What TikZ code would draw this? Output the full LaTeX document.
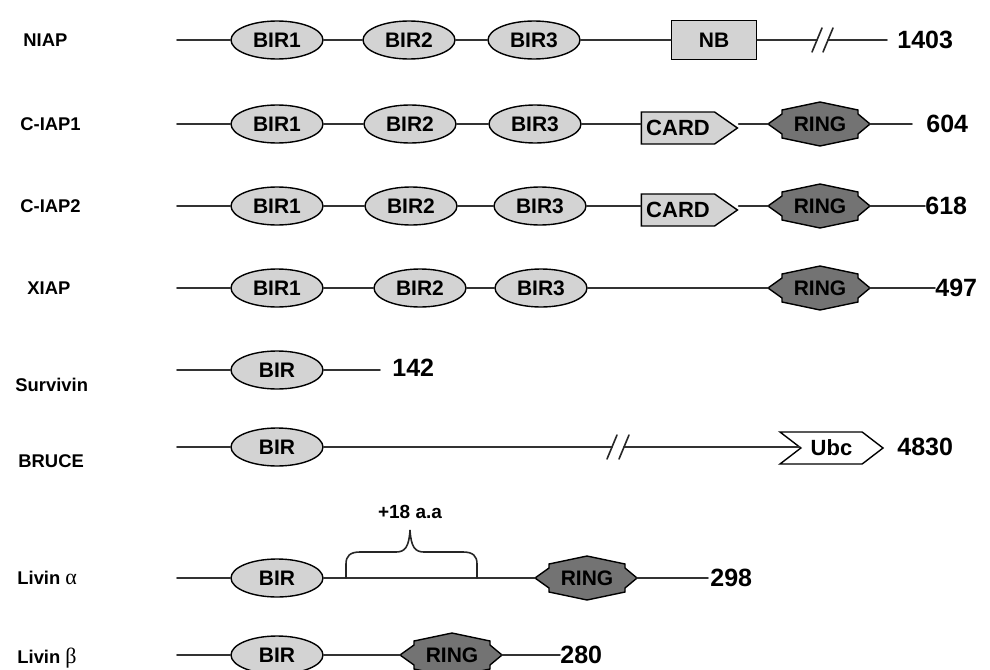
\documentclass[tikz,border=0pt]{standalone}
\usepackage{fontspec}
\setmainfont{Liberation Sans}
\newfontfamily\grk{Liberation Serif}
\usetikzlibrary{shapes.geometric, shapes.symbols}
\definecolor{domgray}{RGB}{211,211,211}
\definecolor{ringgray}{RGB}{115,115,115}

\tikzset{
  bb/.style={line width=0.8pt, black!80},
  brk/.style={line width=0.8pt, black!85},
  prot/.style={anchor=west, inner sep=0pt, font=\bfseries\fontsize{9.2}{11}\selectfont},
  num/.style={anchor=west, inner sep=0pt, font=\bfseries\fontsize{12.5}{14}\selectfont},
  dom/.style={draw=black, line width=0.7pt, inner sep=0pt, font=\bfseries\fontsize{10.5}{12}\selectfont},
  bir/.style={dom, ellipse, fill=domgray, minimum width=46pt, minimum height=19pt},
  nbbox/.style={dom, rectangle, fill=domgray, minimum width=42.5pt, minimum height=19.5pt},
  cardbox/.style={dom, signal, signal to=east, signal pointer angle=70, fill=domgray,
    minimum width=48pt, minimum height=16pt, font=\bfseries\fontsize{11}{12}\selectfont},
  ubcbox/.style={dom, signal, signal to=east, signal from=west, signal pointer angle=75,
    fill=white, minimum width=51.5pt, minimum height=16pt, font=\bfseries\fontsize{11}{12}\selectfont},
  ringdom/.pic={
    \filldraw[fill=ringgray, draw=black, line width=0.7pt]
      (-52,0) -- (-38,-10) -- (-38,-14) -- (0,-22) -- (38,-14) -- (38,-10)
      -- (50,0) -- (38,10) -- (38,14) -- (0,22) -- (-38,14) -- (-38,10) -- cycle;
    \node[font=\bfseries\fontsize{10.5}{12}\selectfont, inner sep=0pt] (-c) {RING};
    \coordinate (-w) at (-52,0);
    \coordinate (-e) at (50,0);
  },
  brkmark/.pic={\draw[brk] (-5,12) -- (5,-12);}
}

\begin{document}
\begin{tikzpicture}[x=0.5pt, y=-0.5pt, line cap=round]
  \useasboundingbox (0,0) rectangle (990,669);

  % --- NIAP ---
  \node[prot] (niap) at (23,40) {NIAP};
  \coordinate (n1s) at (177,40);
  \node[bir] (n1b1) at (277,40) {BIR1};
  \node[bir] (n1b2) at (409,40) {BIR2};
  \node[bir] (n1b3) at (534,40) {BIR3};
  \node[nbbox] (n1nb) at (714,40) {NB};
  \coordinate (n1k1) at (817,40);
  \coordinate (n1k2) at (828,40);
  \node[num] (n1end) at (897,40) {1403};
  \draw[bb] (n1s) -- (n1b1) -- (n1b2) -- (n1b3) -- (n1nb) -- (n1k1);
  \draw[bb, shorten >=5pt] (n1k2) -- (n1end);
  \pic at (n1k1) {brkmark};
  \pic at (n1k2) {brkmark};

  % --- C-IAP1 ---
  \node[prot] (ciap1) at (20,124) {C-IAP1};
  \coordinate (c1s) at (177,124);
  \node[bir] (c1b1) at (277,124) {BIR1};
  \node[bir] (c1b2) at (410,124) {BIR2};
  \node[bir] (c1b3) at (535,124) {BIR3};
  \node[cardbox] (c1card) at (678,128) {CARD\hspace{5pt}};
  \pic (c1r) at (820,124) {ringdom};
  \node[num] (c1end) at (926,124) {604};
  \draw[bb] (c1s) -- (c1b1) -- (c1b2) -- (c1b3) -- (c1b3 -| c1card.west);
  \draw[bb] (c1b3 -| c1card.east) -- (c1r-w);
  \draw[bb, shorten >=7pt] (c1r-e) -- (c1end);

  % --- C-IAP2 ---
  \node[prot] (ciap2) at (20,206) {C-IAP2};
  \coordinate (c2s) at (177,206);
  \node[bir] (c2b1) at (277,206) {BIR1};
  \node[bir] (c2b2) at (411,206) {BIR2};
  \node[bir] (c2b3) at (540,206) {BIR3};
  \node[cardbox] (c2card) at (678,210) {CARD\hspace{5pt}};
  \pic (c2r) at (820,206) {ringdom};
  \node[num] (c2end) at (925,206) {618};
  \draw[bb] (c2s) -- (c2b1) -- (c2b2) -- (c2b3) -- (c2b3 -| c2card.west);
  \draw[bb] (c2b3 -| c2card.east) -- (c2r-w);
  \draw[bb] (c2r-e) -- (c2end);

  % --- XIAP ---
  \node[prot] (xiap) at (27,288) {XIAP};
  \coordinate (x1s) at (177,288);
  \node[bir] (x1b1) at (277,288) {BIR1};
  \node[bir] (x1b2) at (420,288) {BIR2};
  \node[bir] (x1b3) at (541,288) {BIR3};
  \pic (x1r) at (820,288) {ringdom};
  \node[num] (x1end) at (935,288) {497};
  \draw[bb] (x1s) -- (x1b1) -- (x1b2) -- (x1b3) -- (x1r-w);
  \draw[bb] (x1r-e) -- (x1end);

  % --- Survivin ---
  \node[prot] (surv) at (15,385) {Survivin};
  \coordinate (s1s) at (177,370);
  \node[bir] (s1b1) at (277,370) {BIR};
  \node[num] (s1end) at (392,368) {142};
  \draw[bb] (s1s) -- (s1b1);
  \draw[bb, shorten >=6pt] (s1b1) -- (s1end.west |- s1b1);

  % --- BRUCE ---
  \node[prot] (bruce) at (18,461) {BRUCE};
  \coordinate (b1s) at (177,447);
  \node[bir] (b1b1) at (277,447) {BIR};
  \coordinate (b1k1) at (612,447);
  \coordinate (b1k2) at (624,447);
  \node[ubcbox] (b1ubc) at (831.5,448) {Ubc};
  \node[num] (b1end) at (897,447) {4830};
  \draw[bb] (b1s) -- (b1b1) -- (b1k1);
  \draw[bb] (b1k2) -- (b1k2 -| b1ubc.west);
  \pic at (b1k1) {brkmark};
  \pic at (b1k2) {brkmark};

  % --- Livin alpha ---
  \node[prot] (lva) at (17,578) {Livin {\grk\mdseries\fontsize{11}{12}\selectfont α}};
  \coordinate (la0) at (177,578);
  \node[bir] (lab1) at (277,578) {BIR};
  \pic (lar) at (587,578) {ringdom};
  \node[num] (laend) at (710,578) {298};
  \draw[bb] (la0) -- (lab1) -- (lar-w);
  \draw[bb, shorten >=1pt] (lar-e) -- (laend);
  \coordinate (la1) at (346,578);
  \coordinate (la2) at (477,578);
  \draw[brk] (la1) -- (346,564) .. controls (346,556) and (350,552) .. (360,552)
    -- (396,552) .. controls (405,552) and (409,547) .. (410,530)
    .. controls (411,547) and (415,552) .. (424,552) -- (463,552)
    .. controls (473,552) and (477,556) .. (477,564) -- (la2);
  \node[font=\bfseries\fontsize{9.5}{11}\selectfont, inner sep=0pt] (aa) at (410,512) {+18 a.a};

  % --- Livin beta ---
  \node[prot] (lvb) at (17,658) {Livin {\grk\mdseries\fontsize{11}{12}\selectfont β}};
  \coordinate (lb0) at (177,655);
  \node[bir] (lbb1) at (277,655) {BIR};
  \pic (lbr) at (452,655) {ringdom};
  \node[num] (lbend) at (560,655) {280};
  \draw[bb] (lb0) -- (lbb1) -- (lbr-w);
  \draw[bb] (lbr-e) -- (lbend);
\end{tikzpicture}
\end{document}
